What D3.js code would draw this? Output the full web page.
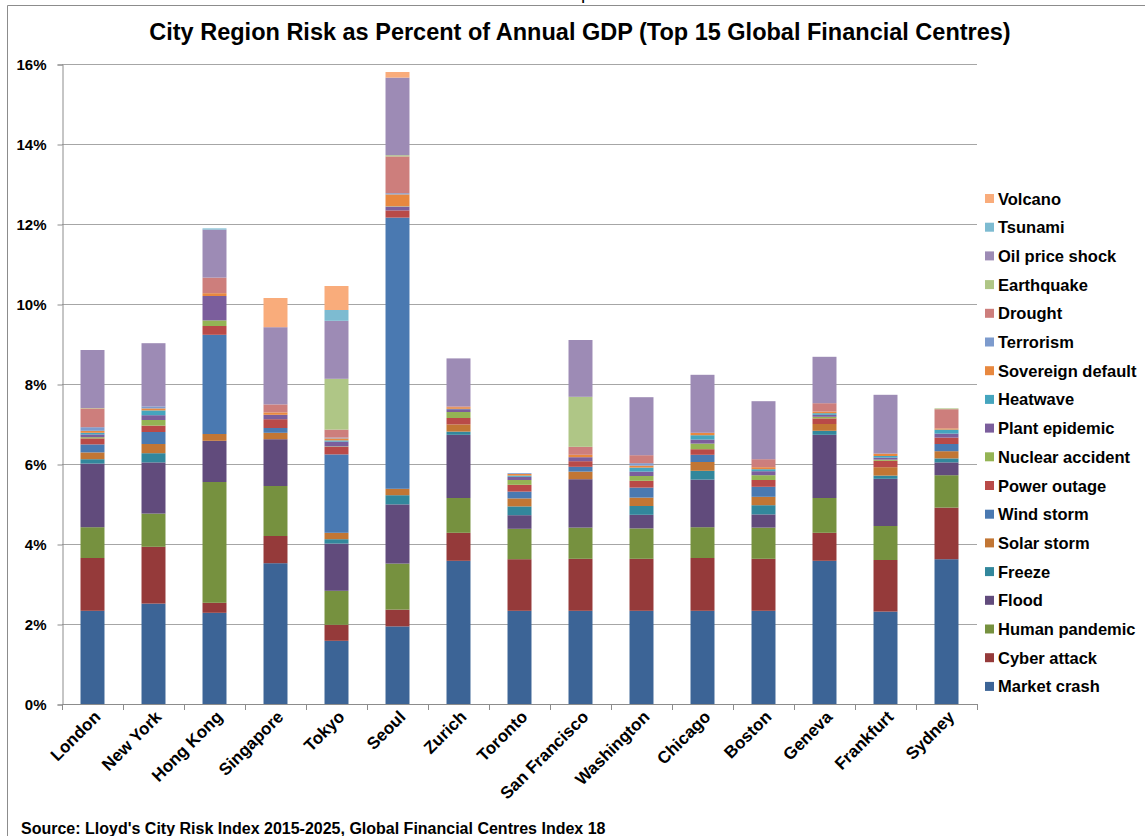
<!DOCTYPE html>
<html>
<head>
<meta charset="utf-8">
<script src="https://cdn.jsdelivr.net/npm/d3@7"></script>
<style>
  body { margin: 0; background: #fff; }
  text { font-family: "Liberation Sans", Arial, sans-serif; }
</style>
</head>
<body>
<div id="chart"></div>
<script>
var width = 1145,
    height = 836;

// cities along the x axis
var cities = ["London", "New  York", "Hong Kong", "Singapore", "Tokyo", "Seoul", "Zurich", "Toronto",
  "San Francisco", "Washington", "Chicago", "Boston", "Geneva", "Frankfurt", "Sydney"];

// risk types, bottom of the stack first
var risks = ["Market crash", "Cyber attack", "Human pandemic", "Flood", "Freeze", "Solar storm", "Wind  storm",
  "Power outage", "Nuclear accident", "Plant epidemic", "Heatwave", "Sovereign default", "Terrorism",
  "Drought", "Earthquake", "Oil price shock", "Tsunami", "Volcano"];

// percent of annual GDP, one value per city (same order as cities)
var marketCrash     = [2.33, 2.51, 2.28, 3.52, 1.58, 1.94, 3.58, 2.33, 2.33, 2.33, 2.33, 2.33, 3.58, 2.31, 3.62];
var cyberAttack     = [1.32, 1.42, 0.25, 0.68, 0.40, 0.42, 0.70, 1.29, 1.30, 1.30, 1.32, 1.30, 0.70, 1.29, 1.29];
var humanPandemic   = [0.77, 0.83, 3.02, 1.25, 0.85, 1.15, 0.87, 0.76, 0.78, 0.76, 0.77, 0.78, 0.87, 0.85, 0.81];
var flood           = [1.59, 1.28, 1.03, 1.17, 1.18, 1.48, 1.58, 0.34, 1.21, 0.34, 1.19, 0.33, 1.58, 1.18, 0.32];
var freeze          = [0.11, 0.23, 0.00, 0.00, 0.11, 0.23, 0.08, 0.22, 0.00, 0.22, 0.22, 0.23, 0.10, 0.08, 0.10];
var solarStorm      = [0.17, 0.23, 0.17, 0.16, 0.16, 0.16, 0.18, 0.20, 0.19, 0.21, 0.22, 0.21, 0.17, 0.21, 0.18];
var windStorm       = [0.20, 0.30, 2.48, 0.12, 1.96, 6.78, 0.00, 0.17, 0.12, 0.25, 0.18, 0.25, 0.00, 0.00, 0.18];
var powerOutage     = [0.15, 0.16, 0.22, 0.22, 0.19, 0.18, 0.16, 0.17, 0.14, 0.17, 0.14, 0.17, 0.14, 0.16, 0.16];
var nuclearAccident = [0.03, 0.14, 0.14, 0.00, 0.01, 0.00, 0.15, 0.12, 0.00, 0.12, 0.14, 0.12, 0.04, 0.03, 0.00];
var plantEpidemic   = [0.07, 0.12, 0.61, 0.11, 0.12, 0.09, 0.07, 0.08, 0.10, 0.11, 0.10, 0.10, 0.05, 0.05, 0.10];
var heatwave        = [0.04, 0.12, 0.00, 0.00, 0.03, 0.01, 0.01, 0.03, 0.00, 0.10, 0.11, 0.05, 0.04, 0.04, 0.10];
var sovereignDefault= [0.05, 0.05, 0.07, 0.06, 0.05, 0.30, 0.04, 0.04, 0.06, 0.05, 0.06, 0.05, 0.04, 0.06, 0.03];
var terrorism       = [0.09, 0.05, 0.00, 0.00, 0.02, 0.03, 0.00, 0.02, 0.00, 0.06, 0.00, 0.00, 0.00, 0.00, 0.00];
var drought         = [0.47, 0.00, 0.39, 0.20, 0.20, 0.92, 0.02, 0.00, 0.20, 0.20, 0.00, 0.20, 0.21, 0.00, 0.48];
var earthquake      = [0.01, 0.00, 0.00, 0.00, 1.27, 0.03, 0.00, 0.00, 1.25, 0.00, 0.00, 0.00, 0.00, 0.00, 0.02];
var oilPriceShock   = [1.45, 1.58, 1.20, 1.93, 1.45, 1.94, 1.20, 0.00, 1.42, 1.45, 1.45, 1.45, 1.16, 1.47, 0.00];
var tsunami         = [0.00, 0.00, 0.03, 0.00, 0.27, 0.00, 0.00, 0.00, 0.00, 0.00, 0.00, 0.00, 0.00, 0.00, 0.00];
var volcano         = [0.00, 0.00, 0.00, 0.73, 0.60, 0.14, 0.00, 0.00, 0.00, 0.00, 0.00, 0.00, 0.00, 0.00, 0.00];

var seriesValues = [marketCrash, cyberAttack, humanPandemic, flood, freeze, solarStorm, windStorm, powerOutage,
  nuclearAccident, plantEpidemic, heatwave, sovereignDefault, terrorism, drought, earthquake, oilPriceShock,
  tsunami, volcano];

var colors = ["#3C6496", "#953A3A", "#76913F", "#614B7C", "#32879C", "#C27634", "#4A79B1",
  "#B94A48", "#94B454", "#7B5E9C", "#45A5BE", "#E8883F", "#7D9BCD",
  "#CD7E7C", "#AFC686", "#9D8BB5", "#7DBBD1", "#F9AC7B"];

var yTicks = [0, 2, 4, 6, 8, 10, 12, 14, 16];

// build rows for d3.stack
var rows = cities.map(function(c, i) {
  var r = { city: c };
  risks.forEach(function(k, j) { r[k] = seriesValues[j][i]; });
  return r;
});

var svg = d3.select("#chart").append("svg")
    .attr("width", width)
    .attr("height", height);

// outer frame (cut off on the right and bottom)
svg.append("path")
    .attr("d", "M7.5,840 V5.5 H1150")
    .attr("fill", "none")
    .attr("stroke", "#8c8c8c")
    .attr("stroke-width", 1);

// stray glyph above the frame
svg.append("text")
    .attr("x", 581)
    .attr("y", -1)
    .attr("font-family", "Liberation Serif, serif")
    .attr("font-size", "19px")
    .text("p");

var x = d3.scaleBand()
    .domain(cities)
    .range([62, 977])
    .paddingInner(0.607)
    .paddingOuter(0.3035);

var y = d3.scaleLinear()
    .domain([0, 16])
    .range([704, 64]);

// gridlines
svg.append("g")
  .selectAll("line")
  .data(yTicks.slice(1))
  .enter().append("line")
    .attr("x1", 62)
    .attr("x2", 977)
    .attr("y1", function(d) { return Math.round(y(d)) + 0.5; })
    .attr("y2", function(d) { return Math.round(y(d)) + 0.5; })
    .attr("stroke", "#a6a6a6")
    .attr("stroke-width", 1);

// y axis
var yAxis = svg.append("g")
    .attr("transform", "translate(62.5,0.5)")
    .call(d3.axisLeft(y).tickValues(yTicks).tickSize(5).tickFormat(function(d) { return d + "%"; }));
yAxis.select(".domain").attr("stroke", "#8c8c8c");
yAxis.selectAll(".tick line").attr("stroke", "#8c8c8c");
yAxis.selectAll(".tick text")
    .attr("x", -16)
    .attr("font-size", "15px")
    .attr("font-weight", "bold")
    .attr("font-family", "Liberation Sans, Arial, sans-serif")
    .attr("fill", "#000");

// stacked bars
var stack = d3.stack().keys(risks);
var layers = stack(rows);

svg.append("g")
  .selectAll("g")
  .data(layers)
  .enter().append("g")
    .attr("fill", function(d, i) { return colors[i]; })
  .selectAll("rect")
  .data(function(d) { return d; })
  .enter().append("rect")
    .attr("x", function(d) { return x(d.data.city); })
    .attr("width", x.bandwidth())
    .attr("y", function(d) { return y(d[1]); })
    .attr("height", function(d) { return y(d[0]) - y(d[1]); });

// x axis with ticks between categories
var xAxisG = svg.append("g");
xAxisG.append("line")
    .attr("x1", 62)
    .attr("x2", 977)
    .attr("y1", 704.5)
    .attr("y2", 704.5)
    .attr("stroke", "#8c8c8c");
xAxisG.selectAll("line.tick")
  .data(d3.range(cities.length + 1))
  .enter().append("line")
    .attr("class", "tick")
    .attr("x1", function(i) { return Math.round(62 + i * x.step()) + 0.5; })
    .attr("x2", function(i) { return Math.round(62 + i * x.step()) + 0.5; })
    .attr("y1", 704)
    .attr("y2", 710)
    .attr("stroke", "#8c8c8c");

xAxisG.selectAll("text")
  .data(cities)
  .enter().append("text")
    .attr("transform", function(d) {
      return "translate(" + (x(d) + x.bandwidth() / 2 + 9) + ",718) rotate(-45)";
    })
    .attr("text-anchor", "end")
    .attr("font-size", "17px")
    .attr("font-weight", "bold")
    .text(function(d) { return d; });

// title
svg.append("text")
    .attr("x", 580)
    .attr("y", 40)
    .attr("text-anchor", "middle")
    .attr("font-size", "23.5px")
    .attr("font-weight", "bold")
    .text("City Region Risk as Percent of Annual GDP (Top 15 Global Financial Centres)");

// legend, top item is the last series
var legend = svg.append("g")
    .selectAll("g")
    .data(risks.slice().reverse())
    .enter().append("g")
    .attr("transform", function(d, i) { return "translate(985," + (199 + i * 28.7) + ")"; });

legend.append("rect")
    .attr("x", 0)
    .attr("y", -5)
    .attr("width", 9)
    .attr("height", 9)
    .attr("fill", function(d) { return colors[risks.indexOf(d)]; });

legend.append("text")
    .attr("x", 13)
    .attr("y", 5.5)
    .attr("font-size", "16.5px")
    .attr("font-weight", "bold")
    .text(function(d) { return d; });

// source note
svg.append("text")
    .attr("x", 21)
    .attr("y", 834)
    .attr("font-size", "16px")
    .attr("font-weight", "bold")
    .text("Source: Lloyd's City Risk Index 2015-2025, Global Financial Centres Index 18");
</script>
</body>
</html>
